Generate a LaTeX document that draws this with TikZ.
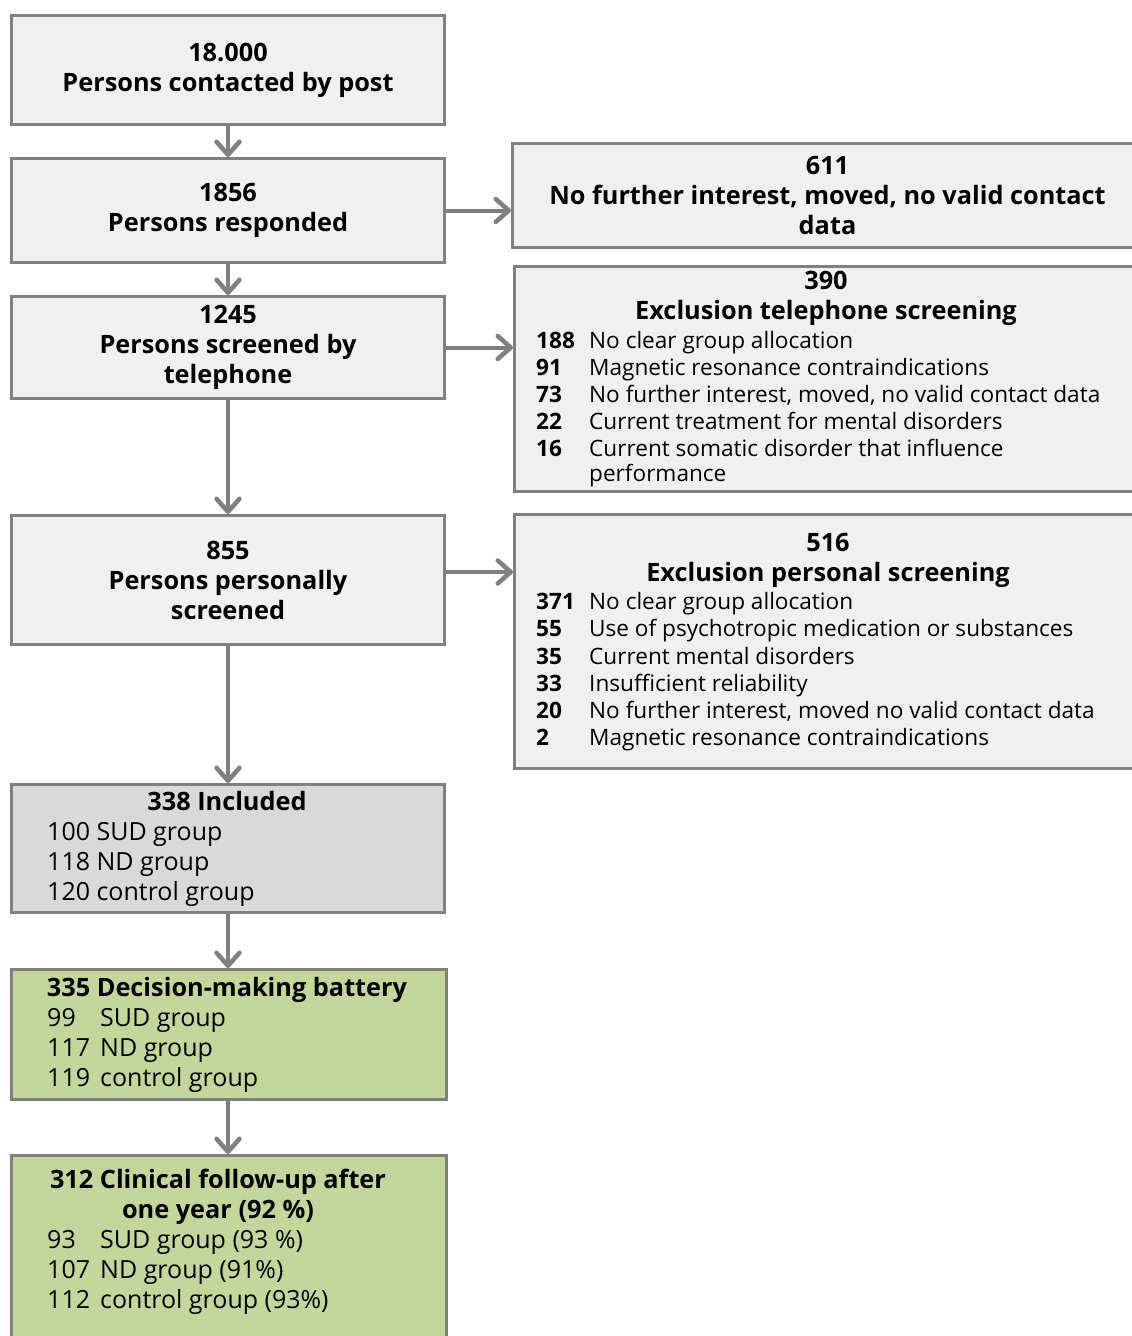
\documentclass[tikz,border=0pt]{standalone}
\usepackage{fontspec}
\setmainfont{Open Sans}
\usetikzlibrary{arrows.meta}
\definecolor{boxgray}{HTML}{F0F0F0}
\definecolor{incgray}{HTML}{D9D9D9}
\definecolor{boxgreen}{HTML}{C4D79B}
\definecolor{edgegray}{HTML}{808080}
\begin{document}
\begin{tikzpicture}[x=1pt,y=-1pt,
 box/.style={draw=edgegray, line width=3pt, fill=boxgray, rectangle, inner sep=0pt, anchor=north west, align=center, font=\fontsize{25.3}{30}\selectfont\bfseries},
 arr/.style={draw=edgegray, line width=4pt, -{Straight Barb[length=13pt,width=23pt,round,line width=4.5pt]}},
 hd/.style={font=\fontsize{25.3}{30}\selectfont\bfseries, anchor=base, inner sep=0pt},
 num/.style={font=\fontsize{22.6}{27}\selectfont\bfseries, anchor=base west, inner sep=0pt},
 itm/.style={font=\fontsize{22.6}{27}\selectfont, anchor=base west, inner sep=0pt},
 grp/.style={font=\fontsize{25}{30}\selectfont, anchor=base west, inner sep=0pt},
]
\useasboundingbox (0,0) rectangle (1132,1336);
\clip (0,0) rectangle (1132,1336);
\fill[white] (0,0) rectangle (1132,1336);

% left column
\node[box, minimum width=433pt, minimum height=109pt] (a) at (10,14) {18.000\\Persons contacted by post};
\node[box, minimum width=433pt, minimum height=104pt] (b) at (10,157) {1856\\Persons responded};
\node[box, minimum width=433pt, minimum height=102pt] (d) at (10,295) {1245\\Persons screened by\\telephone};
\node[box, minimum width=433pt, minimum height=129pt] (f) at (10,514) {855\\Persons personally\\screened};
\node[box, fill=incgray, minimum width=433pt, minimum height=128pt] (h) at (10,783) {};
\node[box, fill=boxgreen, minimum width=435pt, minimum height=130pt] (i) at (10,968) {};
\node[box, fill=boxgreen, minimum width=435pt, minimum height=200pt] (j) at (10,1154) {};

% right column
\node[box, minimum width=630pt, minimum height=104pt] (c) at (511,142) {611\\No further interest, moved, no valid contact\\data};
\node[box, minimum width=630pt, minimum height=225pt] (e) at (513,265) {};
\node[box, minimum width=630pt, minimum height=254pt] (g) at (513,513) {};

% texts E
\node[hd] (e1) at (826,289.5) {390};
\node[hd] (e2) at (826,319.5) {Exclusion telephone screening};
\node[num] (en1) at (536,348) {188}; \node[itm] (et1) at (589,348) {No clear group allocation};
\node[num] (en2) at (536,375) {91};  \node[itm] (et2) at (589,375) {Magnetic resonance contraindications};
\node[num] (en3) at (536,402) {73};  \node[itm] (et3) at (589,402) {No further interest, moved, no valid contact data};
\node[num] (en4) at (536,429) {22};  \node[itm] (et4) at (589,429) {Current treatment for mental disorders};
\node[num] (en5) at (536,456) {16};  \node[itm] (et5) at (589,456) {Current somatic disorder that influence};
\node[itm] (et6) at (589,481) {performance};

% texts G
\node[hd] (g1) at (828,551.5) {516};
\node[hd] (g2) at (828,581.5) {Exclusion personal screening};
\node[num] (gn1) at (536,609) {371}; \node[itm] (gt1) at (589,609) {No clear group allocation};
\node[num] (gn2) at (536,636) {55};  \node[itm] (gt2) at (589,636) {Use of psychotropic medication or substances};
\node[num] (gn3) at (536,664) {35};  \node[itm] (gt3) at (589,664) {Current mental disorders};
\node[num] (gn4) at (536,691) {33};  \node[itm] (gt4) at (589,691) {Insufficient reliability};
\node[num] (gn5) at (536,718) {20};  \node[itm] (gt5) at (589,718) {No further interest, moved no valid contact data};
\node[num] (gn6) at (536,745) {2};   \node[itm] (gt6) at (589,745) {Magnetic resonance contraindications};

% texts H
\node[hd] (h1) at (227,810.5) {338 Included};
\node[grp] (ht1) at (47,840) {100 SUD group};
\node[grp] (ht2) at (47,870) {118 ND group};
\node[grp] (ht3) at (47,900) {120 control group};

% texts I
\node[hd] (i1) at (227,996.5) {335 Decision-making battery};
\node[grp] (in1) at (47,1026) {99};  \node[grp] (it1) at (100,1026) {SUD group};
\node[grp] (in2) at (47,1056) {117}; \node[grp] (it2) at (100,1056) {ND group};
\node[grp] (in3) at (47,1086) {119}; \node[grp] (it3) at (100,1086) {control group};

% texts J
\node[hd] (j1) at (218,1188.5) {312 Clinical follow-up after};
\node[hd] (j2) at (218,1218.5) {one year (92 \%)};
\node[grp] (jn1) at (47,1248) {93};  \node[grp] (jt1) at (100,1248) {SUD group (93 \%)};
\node[grp] (jn2) at (47,1278) {107}; \node[grp] (jt2) at (100,1278) {ND group (91\%)};
\node[grp] (jn3) at (47,1308) {112}; \node[grp] (jt3) at (100,1308) {control group (93\%)};

% arrows
\draw[arr] (a.south) -- (b.north);
\draw[arr] (b.south) -- (d.north);
\draw[arr] (d.south) -- (f.north);
\draw[arr] (f.south) -- (h.north);
\draw[arr] (h.south) -- (h.south |- i.north);
\draw[arr] (h.south |- i.south) -- (h.south |- j.north);
\draw[arr] (b.east) -- (b.east -| c.west);
\draw[arr] (d.east) -- (d.east -| e.west);
\draw[arr] ([yshift=8pt]f.east) -- ([yshift=8pt]f.east -| g.west);
\end{tikzpicture}
\end{document}
